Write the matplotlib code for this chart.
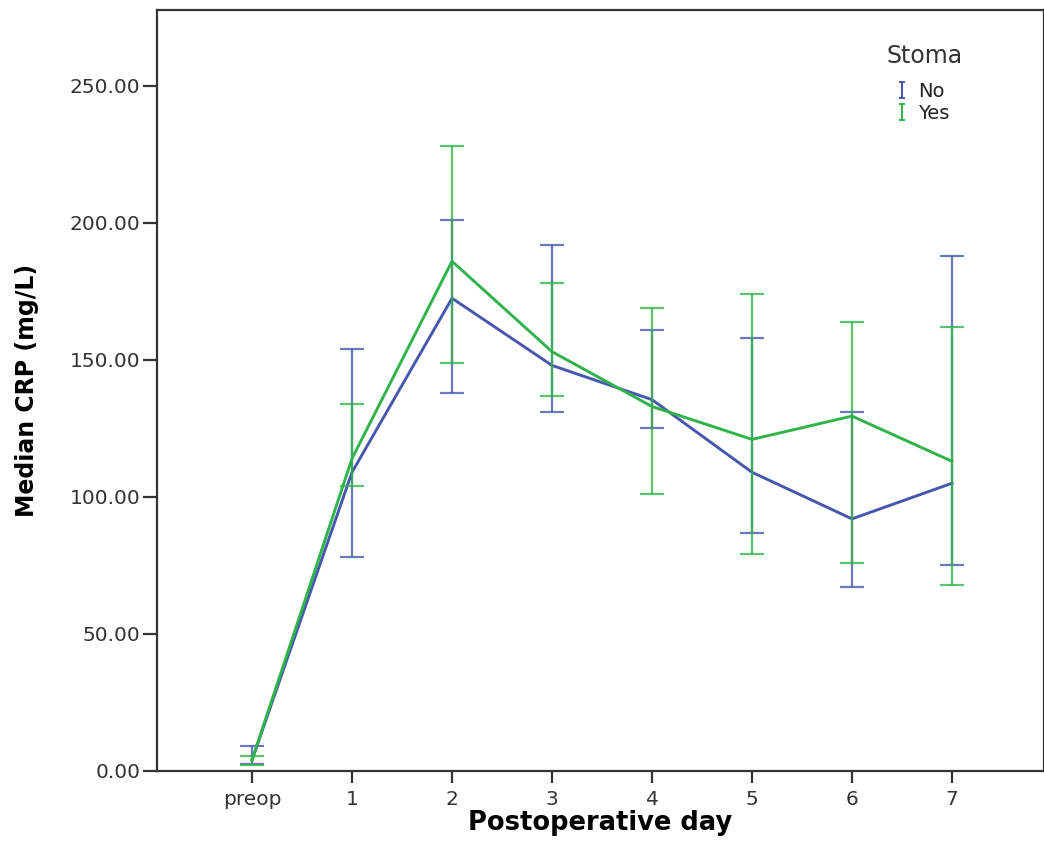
import matplotlib.pyplot as plt
import numpy as np
from matplotlib.path import Path
from matplotlib.lines import Line2D

days = ['preop', '1', '2', '3', '4', '5', '6', '7']

no_median = [4, 109, 172.5, 148, 135.5, 109, 92, 105]
no_low = [2.5, 78, 138, 131, 125, 87, 67, 75]
no_high = [9, 154, 201, 192, 161, 158, 131, 188]

yes_median = [4, 114, 186, 153, 133, 121, 129.5, 113]
yes_low = [2, 104, 149, 137, 101, 79, 76, 68]
yes_high = [5.5, 134, 228, 178, 169, 174, 164, 162]

blue = '#4657ad'
green = '#2fb34a'

fig = plt.figure(figsize=(10.44, 8.52), dpi=100)
ax = fig.add_axes([0.1504, 0.0951, 0.8496, 0.8932])

x = np.arange(len(days))

for med, lo, hi, col in [(no_median, no_low, no_high, blue),
                         (yes_median, yes_low, yes_high, green)]:
    med = np.array(med)
    err = [med - np.array(lo), np.array(hi) - med]
    ax.errorbar(x, med, yerr=err, fmt='none', ecolor=col, elinewidth=1.6,
                capsize=8.6, capthick=1.6, alpha=0.8)
    ax.plot(x, med, color=col, lw=2.1)

ax.set_xlim(-0.95, 7.92)
ax.set_ylim(0, 277.7)
ax.set_xticks(x)
ax.set_xticklabels(days)
ax.set_yticks(np.arange(0, 251, 50))
ax.set_yticklabels(['%.2f' % v for v in np.arange(0, 251, 50)])

for s in ax.spines.values():
    s.set_color('#333333')
    s.set_linewidth(1.6)

ax.tick_params(axis='y', direction='out', length=10, width=1.6, color='#333333',
               labelsize=14.5, labelcolor='#333333', pad=2)
ax.tick_params(axis='x', direction='out', length=8.5, width=1.6, color='#333333',
               labelsize=14.5, labelcolor='#333333', pad=5)

ax.set_xlabel('Postoperative day', fontsize=18.5, fontweight='bold', labelpad=1)
ax.set_ylabel('Median CRP (mg/L)', fontsize=17, fontweight='bold', labelpad=22)

ibeam = Path([(-0.45, 1), (0.45, 1), (0, 1), (0, -1), (-0.45, -1), (0.45, -1)],
             [Path.MOVETO, Path.LINETO, Path.MOVETO, Path.LINETO, Path.MOVETO, Path.LINETO])
handles = [Line2D([], [], ls='none', marker=ibeam, markersize=11, color=blue, mew=1.4),
           Line2D([], [], ls='none', marker=ibeam, markersize=11, color=green, mew=1.4)]
leg = ax.legend(handles, ['No', 'Yes'], loc='upper left',
                bbox_to_anchor=(0.847, 0.9155), bbox_transform=fig.transFigure,
                frameon=False, fontsize=14, handlelength=0.8, borderpad=0,
                handletextpad=0.45, labelspacing=0.18)
for t in leg.get_texts():
    t.set_color('#222222')

fig.text(887 / 1044, 1 - 56 / 852, 'Stoma', fontsize=17, color='#333333',
         ha='left', va='center')

fig.savefig('out.png', dpi=100)
